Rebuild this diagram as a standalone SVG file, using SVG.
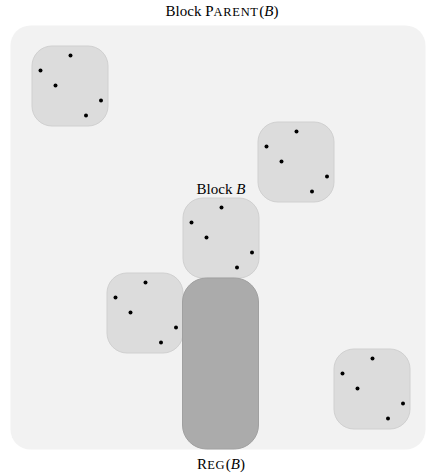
<svg xmlns="http://www.w3.org/2000/svg" width="427" height="475" viewBox="0 0 427 475">
<style>
.lbl{font-family:"Liberation Serif","Times New Roman",serif;font-size:15px;fill:#000}
.sc{font-size:12.5px;letter-spacing:0.7px}
.it{font-style:italic}
.blk{fill:#dcdcdc;stroke:#d0d0d0;stroke-width:1}
.dot{fill:#000}
</style>
<defs>
<g id="blockShape">
<rect class="blk" x="0" y="0" width="76" height="80" rx="20" ry="20"/>
<circle class="dot" cx="38.5" cy="9.5" r="2"/>
<circle class="dot" cx="8.5" cy="24.5" r="2"/>
<circle class="dot" cx="23.5" cy="39.5" r="2"/>
<circle class="dot" cx="69" cy="54.5" r="2"/>
<circle class="dot" cx="54" cy="69.5" r="2"/>
</g>
</defs>
<g id="parent">
<rect x="10.5" y="25.5" width="415" height="424" rx="20" ry="20" fill="#f2f2f2"/>
<text class="lbl" x="222" y="16" text-anchor="middle">Block P<tspan class="sc">ARENT</tspan><tspan dx="0.5">(</tspan><tspan class="it">B</tspan>)</text>
</g>
<g id="block1"><use href="#blockShape" x="32" y="46"/></g>
<g id="block2"><use href="#blockShape" x="258" y="122"/></g>
<g id="blockB"><use href="#blockShape" x="183" y="198"/>
<text class="lbl" x="221" y="194" text-anchor="middle">Block <tspan class="it">B</tspan></text></g>
<g id="block4"><use href="#blockShape" x="107" y="273"/></g>
<g id="block5"><use href="#blockShape" x="334" y="349"/></g>
<g id="reg">
<rect x="182.5" y="278" width="76" height="171" rx="24" ry="24" fill="#ababab" stroke="#a0a0a0" stroke-width="1"/>
<text class="lbl" x="221" y="469" text-anchor="middle">R<tspan class="sc">EG</tspan><tspan dx="0.5">(</tspan><tspan class="it">B</tspan>)</text>
</g>
<g id="connectors"/>
</svg>
